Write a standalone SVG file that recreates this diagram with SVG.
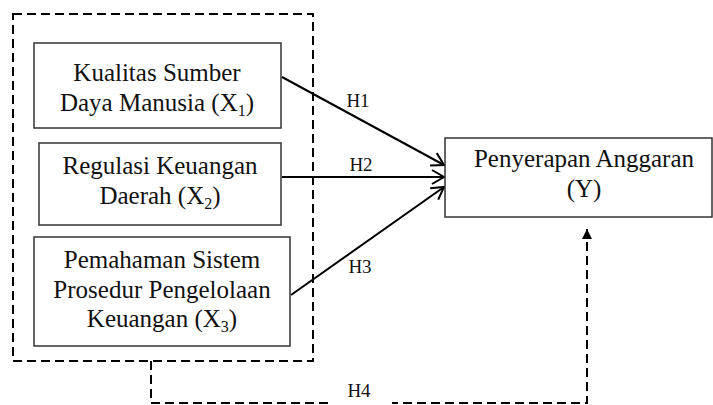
<svg xmlns="http://www.w3.org/2000/svg" width="713" height="405" viewBox="0 0 713 405">
<style>
.box{fill:#fff;stroke:#333;stroke-width:1.5}
.t{font-family:"Liberation Serif","Times New Roman",serif;font-size:25px;fill:#111;text-anchor:middle}
.h{font-family:"Liberation Serif","Times New Roman",serif;font-size:19px;fill:#111;text-anchor:middle}
.sub{font-size:16px}
.arr{stroke:#000;stroke-width:2;fill:none;marker-end:url(#open)}
.dash{stroke:#000;stroke-width:2;fill:none;stroke-dasharray:9 5}
</style>
<defs>
<marker id="open" markerUnits="userSpaceOnUse" markerWidth="16" markerHeight="16" refX="13" refY="8" orient="auto" viewBox="0 0 16 16">
<path d="M1,1 L13,8 L1,15" fill="none" stroke="#000" stroke-width="2"/>
</marker>
<marker id="solid" markerUnits="userSpaceOnUse" markerWidth="10" markerHeight="12" refX="10" refY="5" orient="auto" viewBox="0 0 10 10">
<path d="M0,0 L10,5 L0,10 Z" fill="#000"/>
</marker>
</defs>
<rect width="713" height="405" fill="#fff"/>
<g id="group-box">
<rect x="13" y="14" width="300" height="347" class="dash"/>
</g>
<g id="connectors">
<line x1="282" y1="77" x2="444" y2="165" class="arr"/>
<line x1="282" y1="177" x2="444" y2="177" class="arr"/>
<line x1="291" y1="295" x2="444" y2="187" class="arr"/>
<path d="M151,361 V403 H587 V229" class="dash" marker-end="url(#solid)"/>
<rect x="328" y="382" width="64" height="23" fill="#fff"/>
<text x="358" y="107" class="h">H1</text>
<text x="361" y="171" class="h">H2</text>
<text x="360" y="273" class="h">H3</text>
<text x="359" y="397" class="h">H4</text>
</g>
<g id="x1">
<rect x="34" y="43" width="247" height="85" class="box"/>
<text x="157" y="81" class="t">Kualitas Sumber</text>
<text x="157" y="111" class="t">Daya Manusia (X<tspan class="sub" dy="5">1</tspan><tspan dy="-5">)</tspan></text>
</g>
<g id="x2">
<rect x="39" y="143" width="242" height="82" class="box"/>
<text x="160" y="174" class="t">Regulasi Keuangan</text>
<text x="160" y="204" class="t">Daerah (X<tspan class="sub" dy="5">2</tspan><tspan dy="-5">)</tspan></text>
</g>
<g id="x3">
<rect x="34" y="237" width="256" height="109" class="box"/>
<text x="162" y="268" class="t">Pemahaman Sistem</text>
<text x="162" y="298" class="t">Prosedur Pengelolaan</text>
<text x="162" y="327" class="t">Keuangan (X<tspan class="sub" dy="5">3</tspan><tspan dy="-5">)</tspan></text>
</g>
<g id="y">
<rect x="445" y="138" width="267" height="79" class="box"/>
<text x="584" y="167" class="t">Penyerapan Anggaran</text>
<text x="584" y="197" class="t">(Y)</text>
</g>
</svg>
